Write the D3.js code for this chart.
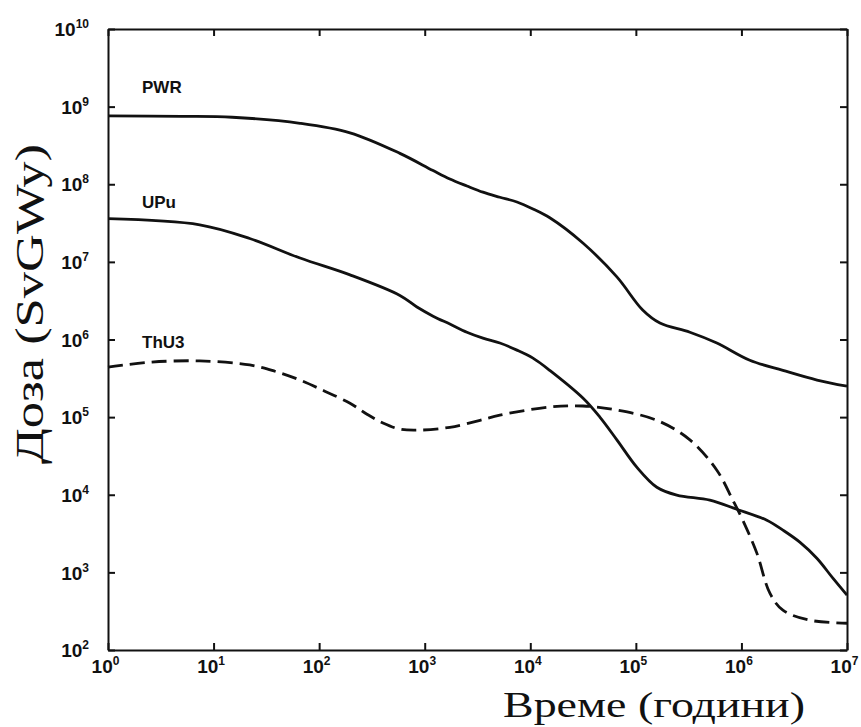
<!DOCTYPE html>
<html>
<head>
<meta charset="utf-8">
<script src="https://cdn.jsdelivr.net/npm/d3@7"></script>
<style>
  body { margin: 0; background: #fff; }
  .axis text { font-family: 'Liberation Sans', Arial, sans-serif; font-weight: bold; font-size: 19px; fill: #111; }
  .axis path, .axis line { stroke: #111; stroke-width: 2; }
  .curve-label { font-family: 'Liberation Sans', Arial, sans-serif; font-weight: bold; font-size: 17px; fill: #111; }
  .title { font-family: 'Liberation Serif', 'Times New Roman', serif; fill: #111; }
</style>
</head>
<body>
<svg id="chart" width="861" height="727"></svg>
<script>
// axis ticks
const xTickValues = [1e0, 1e1, 1e2, 1e3, 1e4, 1e5, 1e6, 1e7];
const yTickValues = [1e2, 1e3, 1e4, 1e5, 1e6, 1e7, 1e8, 1e9, 1e10];

// series: time (years) and dose (SvGWy)
const pwrYears = [1, 5, 15, 66, 196, 582, 1200, 1730, 2510, 3560, 5150, 7470, 10600, 15300, 31500, 66100, 116000, 169000, 325000, 585000, 1.2e6, 2.47e6, 5.2e6, 1e7];
const pwrDose = [7.6e8, 7.5e8, 7.3e8, 6.1e8, 4.6e8, 2.5e8, 1.5e8, 1.17e8, 9.5e7, 7.9e7, 6.8e7, 5.9e7, 4.8e7, 3.7e7, 1.75e7, 6.4e6, 2.4e6, 1.63e6, 1.24e6, 9.0e5, 5.4e5, 4.0e5, 3.0e5, 2.5e5];

const upuYears = [1, 7.4, 22, 66, 196, 582, 844, 1200, 1730, 2510, 3560, 5150, 7470, 10600, 15300, 31500, 45600, 66100, 102000, 158000, 244000, 502000, 904000, 1.74e6, 2.47e6, 3.57e6, 5.18e6, 7.35e6, 1e7];
const upuDose = [3.6e7, 3.0e7, 2.0e7, 1.12e7, 6.8e6, 3.7e6, 2.62e6, 2.0e6, 1.58e6, 1.24e6, 1.04e6, 9.0e5, 7.3e5, 5.75e5, 4.0e5, 1.76e5, 1.0e5, 5.1e4, 2.27e4, 1.25e4, 9.9e3, 8.5e3, 6.5e3, 4.7e3, 3.5e3, 2.45e3, 1.52e3, 842, 508];

const thu3Years = [1, 2.5, 7.4, 22, 38, 66, 113, 196, 284, 402, 582, 901, 1730, 3340, 5150, 15300, 31500, 66100, 158000, 325000, 585000, 829000, 1.03e6, 1.4e6, 1.86e6, 2.47e6, 4.45e6, 1e7];
const thu3Dose = [4.4e5, 5.1e5, 5.3e5, 4.7e5, 3.9e5, 3.0e5, 2.16e5, 1.51e5, 1.09e5, 8.4e4, 7.0e4, 6.8e4, 7.4e4, 9.1e4, 1.06e5, 1.35e5, 1.39e5, 1.23e5, 9.1e4, 5.1e4, 2.07e4, 8.5e3, 4.7e3, 1.77e3, 540, 326, 242, 221];

const seriesNames = ['PWR', 'UPu', 'ThU3'];

const margin = { top: 29, left: 108 };
const width = 739;
const height = 621;
const tickLen = 7;

const svg = d3.select('#chart');
const g = svg.append('g')
  .attr('transform', `translate(${margin.left},${margin.top})`);

const x = d3.scaleLog().domain([1e0, 1e7]).range([0, width]);
const y = d3.scaleLog().domain([1e2, 1e10]).range([height, 0]);

const exponent = d => Math.round(Math.log10(d));

function powerLabels(sel) {
  sel.selectAll('.tick text').each(function(d) {
    const t = d3.select(this).text('');
    t.append('tspan').text('10');
    t.append('tspan')
      .attr('dy', '-8')
      .attr('font-size', '12px')
      .text(exponent(d));
  });
}

// bottom axis
const xAxis = g.append('g')
  .attr('class', 'axis')
  .attr('transform', `translate(0,${height})`)
  .call(d3.axisBottom(x).tickValues(xTickValues).tickSize(-tickLen).tickSizeOuter(0).tickPadding(10));
xAxis.call(powerLabels);
xAxis.selectAll('.tick text').attr('dx', '-3');

// left axis
const yAxis = g.append('g')
  .attr('class', 'axis')
  .call(d3.axisLeft(y).tickValues(yTickValues).tickSize(-tickLen).tickSizeOuter(0).tickPadding(19));
yAxis.call(powerLabels);
yAxis.selectAll('.tick text').attr('dy', '0.35em');

// top and right frame with inward ticks
g.append('g')
  .attr('class', 'axis')
  .call(d3.axisTop(x).tickValues(xTickValues).tickSize(-tickLen).tickSizeOuter(0).tickFormat(''));
g.append('g')
  .attr('class', 'axis')
  .attr('transform', `translate(${width},0)`)
  .call(d3.axisRight(y).tickValues(yTickValues).tickSize(-tickLen).tickSizeOuter(0).tickFormat(''));

// curves
const line = d3.line()
  .x(d => x(d[0]))
  .y(d => y(d[1]))
  .curve(d3.curveCatmullRom.alpha(0.5));

const series = [
  { name: seriesNames[0], data: d3.zip(pwrYears, pwrDose), dash: null },
  { name: seriesNames[1], data: d3.zip(upuYears, upuDose), dash: null },
  { name: seriesNames[2], data: d3.zip(thu3Years, thu3Dose), dash: '15,7' }
];

g.selectAll('.curve')
  .data(series)
  .enter()
  .append('path')
  .attr('class', 'curve')
  .attr('fill', 'none')
  .attr('stroke', '#111')
  .attr('stroke-width', 2.8)
  .attr('stroke-dasharray', d => d.dash)
  .attr('d', d => line(d.data));

// curve labels, placed above the start of each curve
const labelOffsets = [23, 11, 19];
g.selectAll('.curve-label')
  .data(series)
  .enter()
  .append('text')
  .attr('class', 'curve-label')
  .attr('x', x(1) + 34)
  .attr('y', (d, i) => y(d.data[0][1]) - labelOffsets[i])
  .text(d => d.name);

// axis titles
svg.append('text')
  .attr('class', 'title')
  .attr('x', 805)
  .attr('y', 717)
  .attr('text-anchor', 'end')
  .attr('font-size', '36px')
  .attr('textLength', 302)
  .attr('lengthAdjust', 'spacingAndGlyphs')
  .text('Време (години)');

svg.append('text')
  .attr('class', 'title')
  .attr('transform', 'translate(43,304) rotate(-90)')
  .attr('text-anchor', 'middle')
  .attr('font-size', '39px')
  .attr('textLength', 320)
  .attr('lengthAdjust', 'spacingAndGlyphs')
  .text('Доза (SvGWy)');
</script>
</body>
</html>
